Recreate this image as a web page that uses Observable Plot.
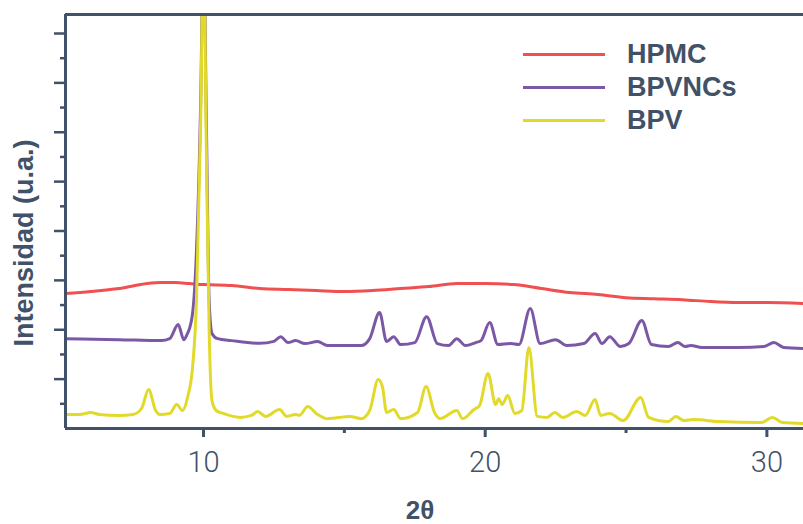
<!DOCTYPE html>
<html>
<head>
<meta charset="utf-8">
<script src="https://cdn.jsdelivr.net/npm/d3@7"></script>
<script src="https://cdn.jsdelivr.net/npm/@observablehq/plot@0.6"></script>
<style>
  html, body { margin: 0; padding: 0; background: #fff; }
  #wrap { position: relative; width: 803px; height: 524px; overflow: hidden; font-family: "Liberation Sans", Arial, sans-serif; color: #415168; }
  .title { position: absolute; font-weight: bold; color: #415168; white-space: nowrap; line-height: 1; }
  #ylab { left: 24px; top: 243px; font-size: 27px; transform: translate(-50%, -50%) rotate(-90deg); }
  #xlab { left: 420px; top: 510px; font-size: 26px; transform: translate(-50%, -50%); }
  #legend { position: absolute; left: 523px; top: 38px; }
  .item { display: flex; align-items: center; height: 33px; }
  .sw { width: 82px; height: 3px; margin-right: 22px; }
  .lab { font-weight: bold; font-size: 27px; color: #415168; }
</style>
</head>
<body>
<div id="wrap">
  <div id="chart"></div>
  <div class="title" id="ylab">Intensidad (u.a.)</div>
  <div class="title" id="xlab">2θ</div>
  <div id="legend"></div>
</div>
<script>
// Series names and colours
const seriesNames = ["HPMC", "BPVNCs", "BPV"];
const seriesColors = ["#f0504f", "#7b58a6", "#e2da2a"];

// x tick labels
const xTicks = [10, 20, 30];
const xMinorTicks = [15, 25];

// HPMC (red)
const hpmcX = [5.1, 6, 7, 8, 8.5, 9, 9.5, 10, 11, 12, 13, 14, 15, 16, 17, 18, 19, 20, 21, 22, 23, 24, 25, 26, 27, 28, 29, 30, 31.3];
const hpmcY = [5.47, 5.55, 5.67, 5.87, 5.91, 5.91, 5.87, 5.83, 5.79, 5.67, 5.63, 5.59, 5.55, 5.59, 5.67, 5.75, 5.87, 5.87, 5.83, 5.67, 5.51, 5.43, 5.30, 5.26, 5.22, 5.14, 5.10, 5.10, 5.06];

// BPVNCs (purple)
const bpvncsX = [5.1, 7.0, 8.5, 8.8, 9.1, 9.3, 9.4, 9.6, 9.75, 9.9, 10.0, 10.1, 10.2, 10.3, 10.5, 11.0, 12.0, 12.5, 12.74, 13.0, 13.27, 13.6, 14.05, 14.4, 15.0, 15.6, 15.9, 16.25, 16.5, 16.75, 17.0, 17.5, 17.92, 18.3, 18.7, 18.99, 19.3, 19.66, 19.85, 20.16, 20.45, 20.9, 21.2, 21.6, 21.95, 22.5, 22.9, 23.5, 23.9, 24.15, 24.42, 24.8, 25.1, 25.56, 25.9, 26.5, 26.84, 27.1, 27.3, 27.7, 29.0, 29.9, 30.25, 30.6, 31.3];
const bpvncsY = [3.64, 3.60, 3.56, 3.64, 4.21, 3.60, 3.77, 4.57, 7.2, 13.3, 20, 12.5, 5.18, 3.85, 3.64, 3.56, 3.45, 3.53, 3.72, 3.48, 3.56, 3.44, 3.52, 3.36, 3.36, 3.36, 3.64, 4.70, 3.52, 3.72, 3.40, 3.48, 4.53, 3.44, 3.36, 3.64, 3.36, 3.48, 3.56, 4.29, 3.40, 3.44, 3.40, 4.86, 3.44, 3.60, 3.36, 3.44, 3.85, 3.44, 3.72, 3.32, 3.44, 4.37, 3.40, 3.32, 3.48, 3.32, 3.36, 3.28, 3.28, 3.32, 3.48, 3.28, 3.24];

// BPV (yellow)
const bpvX = [5.1, 5.6, 6.0, 6.3, 7.0, 7.5, 7.8, 8.05, 8.3, 8.45, 8.8, 9.05, 9.25, 9.45, 9.6, 9.75, 9.9, 10.0, 10.1, 10.2, 10.3, 10.45, 10.7, 11.3, 11.7, 11.92, 12.2, 12.7, 12.95, 13.27, 13.4, 13.7, 14.0, 14.4, 15.2, 15.6, 15.9, 16.2, 16.35, 16.5, 16.75, 17.0, 17.6, 17.9, 18.2, 18.4, 18.99, 19.2, 19.6, 19.8, 20.1, 20.37, 20.48, 20.6, 20.8, 21.05, 21.3, 21.55, 21.85, 22.2, 22.47, 22.75, 23.25, 23.55, 23.9, 24.1, 24.42, 24.9, 25.52, 25.8, 26.5, 26.77, 27.05, 27.4, 28.3, 29.8, 30.2, 30.55, 31.3];
const bpvY = [0.57, 0.57, 0.65, 0.57, 0.53, 0.57, 0.81, 1.58, 0.73, 0.57, 0.61, 0.97, 0.73, 1.34, 2.35, 5.18, 12.47, 20, 11.25, 3.97, 1.13, 0.73, 0.61, 0.45, 0.53, 0.69, 0.49, 0.77, 0.49, 0.57, 0.53, 0.89, 0.61, 0.40, 0.49, 0.40, 0.73, 1.98, 1.70, 0.65, 0.77, 0.40, 0.65, 1.70, 0.65, 0.40, 0.73, 0.40, 0.77, 0.93, 2.23, 0.97, 1.21, 0.97, 1.34, 0.61, 0.73, 3.28, 0.49, 0.45, 0.65, 0.45, 0.69, 0.53, 1.17, 0.53, 0.61, 0.32, 1.26, 0.45, 0.28, 0.49, 0.32, 0.36, 0.28, 0.24, 0.45, 0.24, 0.20];

const xDomain = [5.1, 31.3];
const yDomain = [0, 16.77];

const toRows = (name, xs, ys) => xs.map((x, i) => ({series: name, x, y: ys[i]}));
const rows = [
  ...toRows("HPMC", hpmcX, hpmcY),
  ...toRows("BPVNCs", bpvncsX, bpvncsY),
  ...toRows("BPV", bpvX, bpvY)
];

const axisColor = "#415168";
const chart = Plot.plot({
  width: 803,
  height: 524,
  marginLeft: 65,
  marginRight: 0,
  marginTop: 14,
  marginBottom: 96,
  style: {fontFamily: "Roboto, 'Liberation Sans', sans-serif", fontSize: "29px", fontWeight: 300, color: axisColor, background: "white"},
  x: {domain: xDomain},
  y: {domain: yDomain},
  color: {domain: seriesNames, range: seriesColors},
  marks: [
    Plot.lineY(rows, {x: "x", y: "y", z: "series", stroke: "series", strokeWidth: 3, curve: "monotone-x", clip: true}),
    Plot.ruleY([yDomain[1]], {stroke: axisColor, strokeWidth: 3}),
    Plot.ruleY([yDomain[0]], {stroke: axisColor, strokeWidth: 3}),
    Plot.ruleX([xDomain[0]], {stroke: axisColor, strokeWidth: 3}),
    Plot.axisX({ticks: xTicks, tickSize: 9, tickPadding: 14, strokeWidth: 3, label: null, stroke: axisColor}),
    Plot.axisX({ticks: xMinorTicks, tickSize: 5, tickFormat: () => "", strokeWidth: 3, label: null, stroke: axisColor}),
    Plot.axisY({ticks: d3.range(2, 17, 2), tickSize: 11, tickFormat: () => "", strokeWidth: 2.5, label: null, stroke: axisColor}),
    Plot.axisY({ticks: d3.range(1, 17, 2), tickSize: 5, tickFormat: () => "", strokeWidth: 2.5, label: null, stroke: axisColor})
  ]
});
document.getElementById("chart").appendChild(chart);

const legend = document.getElementById("legend");
seriesNames.forEach((name, i) => {
  const item = document.createElement("div");
  item.className = "item";
  item.innerHTML = `<div class="sw" style="background:${seriesColors[i]}"></div><div class="lab">${name}</div>`;
  legend.appendChild(item);
});
</script>
</body>
</html>
